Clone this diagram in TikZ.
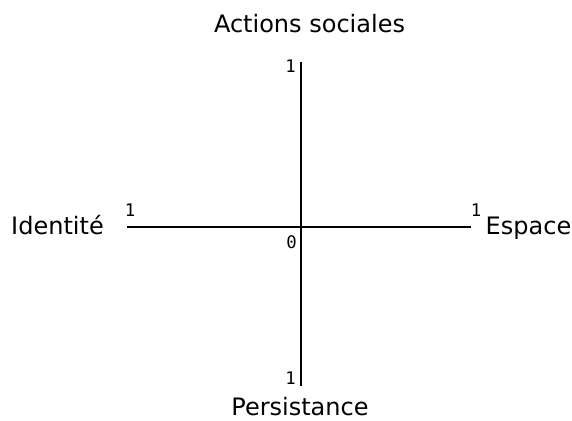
\documentclass[tikz,border=0pt]{standalone}
\usepackage{fontspec}
\setmainfont{DejaVu Sans}
\newfontfamily\numfont{DejaVu Sans Mono}
\begin{document}
\begin{tikzpicture}[
  x=0.75pt, y=0.75pt,
  every node/.style={inner sep=0pt, outer sep=0pt, text=black, anchor=base},
  axis/.style={draw=black, line width=0.9pt},
  lbl/.style={font=\fontsize{18}{21}\selectfont},
  num/.style={font=\numfont\fontsize{13}{15}\selectfont},
]
\useasboundingbox (0,0) rectangle (572,421);

% axis ends; the origin sits at (301,194)
\coordinate (top)    at (301,359);
\coordinate (bottom) at (301,35);
\coordinate (left)   at (127,194);
\coordinate (right)  at (471,194);

\draw[axis] (left) -- (right);
\draw[axis] (top) -- (bottom);

% ---------- axis names ----------
\node[lbl] (actions) at (309.5,388) {Actions sociales};
\node[lbl] (ident)   at (57.5,186)  {Identité};
\node[lbl] (espace)  at (528.5,186) {Espace};
\node[lbl] (persist) at (300,5)     {Persistance};

% ---------- scale marks ----------
\node[num] (ntop)    at (290.5,348) {1};
\node[num] (nleft)   at (130,204)   {1};
\node[num] (nright)  at (476,204)   {1};
\node[num] (nzero)   at (291.5,172) {0};
\node[num] (nbottom) at (290.5,36)  {1};

\end{tikzpicture}
\end{document}
